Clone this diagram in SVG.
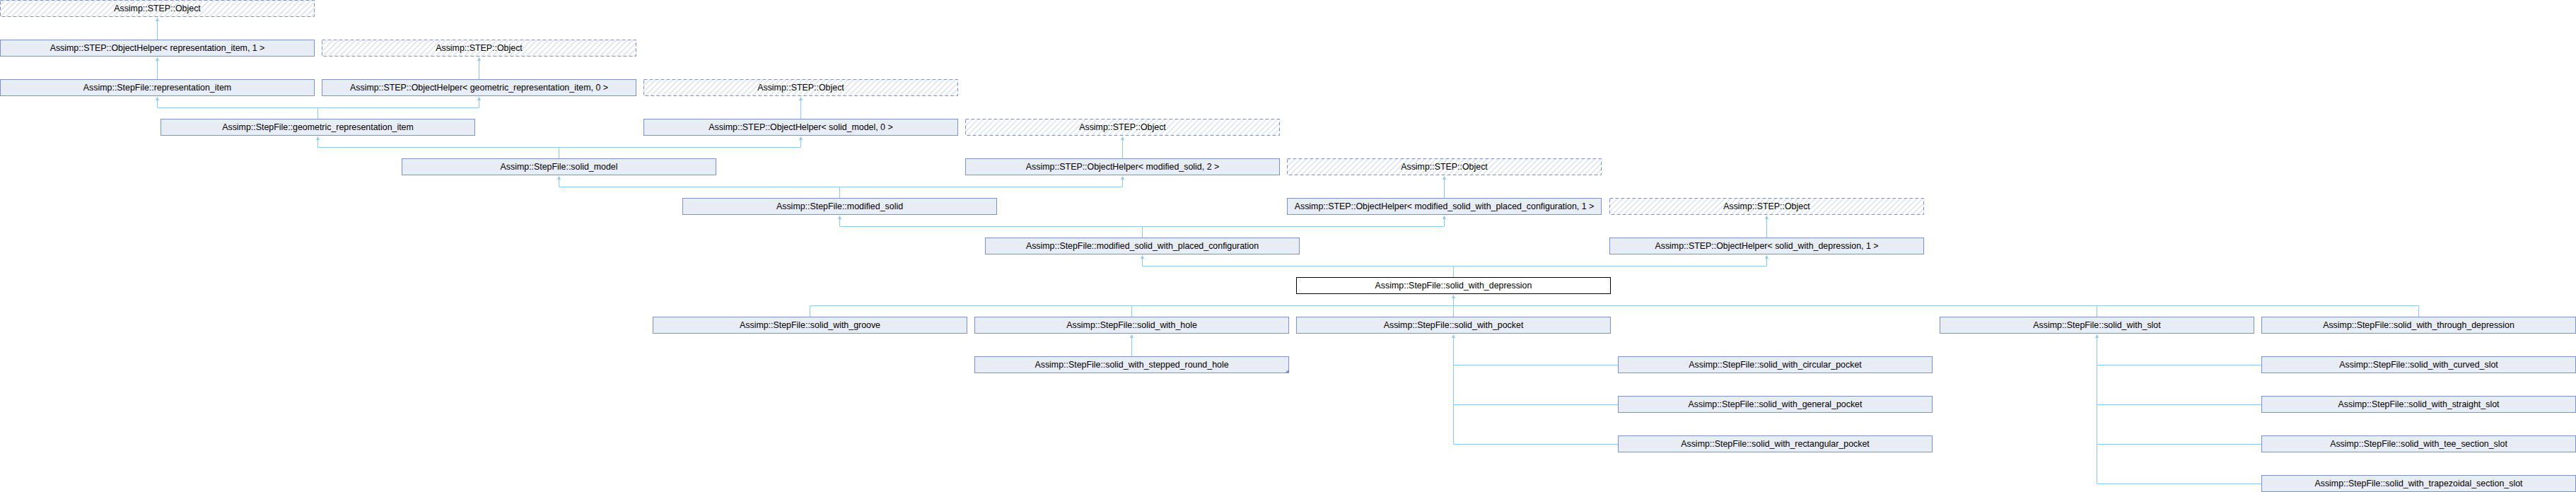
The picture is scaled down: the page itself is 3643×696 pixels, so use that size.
<svg xmlns="http://www.w3.org/2000/svg" xmlns:xlink="http://www.w3.org/1999/xlink" width="3643" height="696" viewBox="0 0 3643 696">
<style>
.n rect{fill:#E8ECF5;stroke:#7B93CA;stroke-width:1}
.o rect{fill:url(#hatch);stroke:#7B93CA;stroke-width:1;stroke-dasharray:5,3}
.m rect{fill:#FFFFFF;stroke:#000000;stroke-width:1}
text{font-family:"Liberation Sans",Arial,sans-serif;font-size:12.4px;text-anchor:middle;fill:#000}
.c path{fill:none;stroke:#8FCAE8;stroke-width:1}
.c use{fill:#8FCAE8}
.more{fill:#7B93CA}
</style>
<defs>
<pattern id="hatch" patternUnits="userSpaceOnUse" width="8" height="8">
<rect width="8" height="8" fill="#FFFFFF"/>
<path d="M-2,2 L2,-2 M0,8 L8,0 M6,10 L10,6" stroke="#DCE1EC" stroke-width="1.5"/>
</pattern>
<path id="ah" d="M0,0 L-2.5,5 L2.5,5 Z"/>
</defs>

<g id="connectors" class="c">
<path d="M222.5,56 V30"/><use xlink:href="#ah" x="222.5" y="25"/>
<path d="M222.5,112 V86"/><use xlink:href="#ah" x="222.5" y="81"/>
<path d="M677.5,112 V86"/><use xlink:href="#ah" x="677.5" y="81"/>
<path d="M449.5,168 V152.5 M222.5,142 V152.5 H677.5 V142"/><use xlink:href="#ah" x="222.5" y="137"/><use xlink:href="#ah" x="677.5" y="137"/>
<path d="M1132.5,168 V142"/><use xlink:href="#ah" x="1132.5" y="137"/>
<path d="M790.5,224 V208.5 M449.5,198 V208.5 H1132.5 V198"/><use xlink:href="#ah" x="449.5" y="193"/><use xlink:href="#ah" x="1132.5" y="193"/>
<path d="M1587.5,224 V198"/><use xlink:href="#ah" x="1587.5" y="193"/>
<path d="M1187.5,280 V264.5 M790.5,254 V264.5 H1587.5 V254"/><use xlink:href="#ah" x="790.5" y="249"/><use xlink:href="#ah" x="1587.5" y="249"/>
<path d="M2042.5,280 V254"/><use xlink:href="#ah" x="2042.5" y="249"/>
<path d="M1615.5,336 V320.5 M1187.5,310 V320.5 H2042.5 V310"/><use xlink:href="#ah" x="1187.5" y="305"/><use xlink:href="#ah" x="2042.5" y="305"/>
<path d="M2498.5,336 V310"/><use xlink:href="#ah" x="2498.5" y="305"/>
<path d="M2055.5,392 V376.5 M1615.5,366 V376.5 H2498.5 V366"/><use xlink:href="#ah" x="1615.5" y="361"/><use xlink:href="#ah" x="2498.5" y="361"/>
<path d="M2055.5,422 V448 M1145.5,448 V432.5 H3420.5 V448 M1600.5,432.5 V448 M2965.5,432.5 V448"/><use xlink:href="#ah" x="2055.5" y="417"/>
<path d="M1600.5,504 V478"/><use xlink:href="#ah" x="1600.5" y="473"/>
<path d="M2055.5,478 V628.5 M2055.5,516.5 H2288 M2055.5,572.5 H2288 M2055.5,628.5 H2288"/><use xlink:href="#ah" x="2055.5" y="473"/>
<path d="M2965.5,478 V684.5 M2965.5,516.5 H3198 M2965.5,572.5 H3198 M2965.5,628.5 H3198 M2965.5,684.5 H3198"/><use xlink:href="#ah" x="2965.5" y="473"/>
</g>

<g id="obj0" class="o"><rect x="0.5" y="0.5" width="444" height="23"/><text x="222.5" y="16">Assimp::STEP::Object</text></g>
<g id="oh_representation_item" class="n"><rect x="0.5" y="56.5" width="444" height="23"/><text x="222.5" y="72">Assimp::STEP::ObjectHelper&lt; representation_item, 1 &gt;</text></g>
<g id="obj1" class="o"><rect x="455.5" y="56.5" width="444" height="23"/><text x="677.5" y="72">Assimp::STEP::Object</text></g>
<g id="representation_item" class="n"><rect x="0.5" y="112.5" width="444" height="23"/><text x="222.5" y="128">Assimp::StepFile::representation_item</text></g>
<g id="oh_geometric_representation_item" class="n"><rect x="455.5" y="112.5" width="444" height="23"/><text x="677.5" y="128">Assimp::STEP::ObjectHelper&lt; geometric_representation_item, 0 &gt;</text></g>
<g id="obj2" class="o"><rect x="910.5" y="112.5" width="444" height="23"/><text x="1132.5" y="128">Assimp::STEP::Object</text></g>
<g id="geometric_representation_item" class="n"><rect x="227.5" y="168.5" width="444" height="23"/><text x="449.5" y="184">Assimp::StepFile::geometric_representation_item</text></g>
<g id="oh_solid_model" class="n"><rect x="910.5" y="168.5" width="444" height="23"/><text x="1132.5" y="184">Assimp::STEP::ObjectHelper&lt; solid_model, 0 &gt;</text></g>
<g id="obj3" class="o"><rect x="1365.5" y="168.5" width="444" height="23"/><text x="1587.5" y="184">Assimp::STEP::Object</text></g>
<g id="solid_model" class="n"><rect x="568.5" y="224.5" width="444" height="23"/><text x="790.5" y="240">Assimp::StepFile::solid_model</text></g>
<g id="oh_modified_solid" class="n"><rect x="1365.5" y="224.5" width="444" height="23"/><text x="1587.5" y="240">Assimp::STEP::ObjectHelper&lt; modified_solid, 2 &gt;</text></g>
<g id="obj4" class="o"><rect x="1820.5" y="224.5" width="444" height="23"/><text x="2042.5" y="240">Assimp::STEP::Object</text></g>
<g id="modified_solid" class="n"><rect x="965.5" y="280.5" width="444" height="23"/><text x="1187.5" y="296">Assimp::StepFile::modified_solid</text></g>
<g id="oh_modified_solid_with_placed_configuration" class="n"><rect x="1820.5" y="280.5" width="444" height="23"/><text x="2042.5" y="296">Assimp::STEP::ObjectHelper&lt; modified_solid_with_placed_configuration, 1 &gt;</text></g>
<g id="obj5" class="o"><rect x="2276.5" y="280.5" width="444" height="23"/><text x="2498.5" y="296">Assimp::STEP::Object</text></g>
<g id="modified_solid_with_placed_configuration" class="n"><rect x="1393.5" y="336.5" width="444" height="23"/><text x="1615.5" y="352">Assimp::StepFile::modified_solid_with_placed_configuration</text></g>
<g id="oh_solid_with_depression" class="n"><rect x="2276.5" y="336.5" width="444" height="23"/><text x="2498.5" y="352">Assimp::STEP::ObjectHelper&lt; solid_with_depression, 1 &gt;</text></g>
<g id="solid_with_depression" class="m"><rect x="1833.5" y="392.5" width="444" height="23"/><text x="2055.5" y="408">Assimp::StepFile::solid_with_depression</text></g>
<g id="solid_with_groove" class="n"><rect x="923.5" y="448.5" width="444" height="23"/><text x="1145.5" y="464">Assimp::StepFile::solid_with_groove</text></g>
<g id="solid_with_hole" class="n"><rect x="1378.5" y="448.5" width="444" height="23"/><text x="1600.5" y="464">Assimp::StepFile::solid_with_hole</text></g>
<g id="solid_with_pocket" class="n"><rect x="1833.5" y="448.5" width="444" height="23"/><text x="2055.5" y="464">Assimp::StepFile::solid_with_pocket</text></g>
<g id="solid_with_slot" class="n"><rect x="2743.5" y="448.5" width="444" height="23"/><text x="2965.5" y="464">Assimp::StepFile::solid_with_slot</text></g>
<g id="solid_with_through_depression" class="n"><rect x="3198.5" y="448.5" width="444" height="23"/><text x="3420.5" y="464">Assimp::StepFile::solid_with_through_depression</text></g>
<g id="solid_with_stepped_round_hole" class="n"><rect x="1378.5" y="504.5" width="444" height="23"/><path class="more" d="M1822.5,522.5 V527.5 H1817.5 Z"/><text x="1600.5" y="520">Assimp::StepFile::solid_with_stepped_round_hole</text></g>
<g id="solid_with_circular_pocket" class="n"><rect x="2288.5" y="504.5" width="444" height="23"/><text x="2510.5" y="520">Assimp::StepFile::solid_with_circular_pocket</text></g>
<g id="solid_with_curved_slot" class="n"><rect x="3198.5" y="504.5" width="444" height="23"/><text x="3420.5" y="520">Assimp::StepFile::solid_with_curved_slot</text></g>
<g id="solid_with_general_pocket" class="n"><rect x="2288.5" y="560.5" width="444" height="23"/><text x="2510.5" y="576">Assimp::StepFile::solid_with_general_pocket</text></g>
<g id="solid_with_straight_slot" class="n"><rect x="3198.5" y="560.5" width="444" height="23"/><text x="3420.5" y="576">Assimp::StepFile::solid_with_straight_slot</text></g>
<g id="solid_with_rectangular_pocket" class="n"><rect x="2288.5" y="616.5" width="444" height="23"/><text x="2510.5" y="632">Assimp::StepFile::solid_with_rectangular_pocket</text></g>
<g id="solid_with_tee_section_slot" class="n"><rect x="3198.5" y="616.5" width="444" height="23"/><text x="3420.5" y="632">Assimp::StepFile::solid_with_tee_section_slot</text></g>
<g id="solid_with_trapezoidal_section_slot" class="n"><rect x="3198.5" y="672.5" width="444" height="23"/><text x="3420.5" y="688">Assimp::StepFile::solid_with_trapezoidal_section_slot</text></g>
</svg>
